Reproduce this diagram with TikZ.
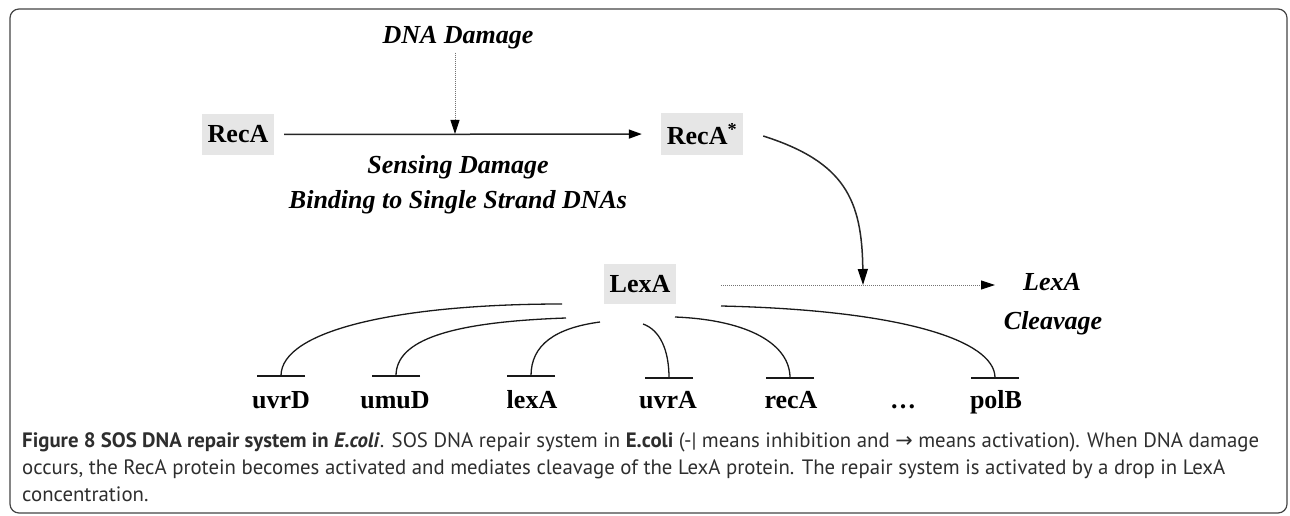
\documentclass[tikz,border=0pt]{standalone}
\usepackage{fontspec}
\setmainfont{Liberation Serif}
\newfontfamily\capfont{PT Sans}
\newfontfamily\arrowfont{DejaVu Sans}
\usetikzlibrary{arrows.meta,calc}
\definecolor{boxgray}{HTML}{E6E6E6}
\definecolor{framegray}{HTML}{444444}
\definecolor{captext}{HTML}{2E2E2E}
\begin{document}
\begin{tikzpicture}[x=1pt,y=-1pt,
  gene/.style={font=\fontsize{26}{30}\selectfont\bfseries, inner sep=0pt, anchor=base},
  protein/.style={fill=boxgray, font=\fontsize{26}{30}\selectfont\bfseries, minimum height=41pt, inner sep=0pt},
  note/.style={font=\fontsize{26}{30}\selectfont\bfseries\itshape, inner sep=0pt, anchor=base},
  actline/.style={line width=1.5pt, draw=black!85, -{Triangle[length=13pt,width=9pt,black]}},
  dotline/.style={line width=0.9pt, draw=black!55, dash pattern=on 1pt off 1pt, -{Triangle[length=14pt,width=9pt,black]}},
  inhib/.style={line width=1.3pt, draw=black!90, -{Bar[width=48pt,line width=1.6pt]}},
  capstyle/.style={font=\capfont\fontsize{20.8}{24}\selectfont, text=captext, inner sep=0pt, anchor=base west},
]
\useasboundingbox (0,0) rectangle (1290,516);
\draw[framegray, line width=1.2pt, rounded corners=9pt] (10,9) rectangle (1287,513);

% nodes
\node[note] (dna) at (458,44) {DNA Damage};
\node[protein, minimum width=72pt] (recA) at (238,134.5) {RecA};
\node[protein, minimum width=82pt] (recAs) at (702,134) {RecA\textsuperscript{*}};
\node[note] (sens) at (458,173) {Sensing Damage};
\node[note] (bind) at (458,208) {Binding to Single Strand DNAs};
\node[protein, minimum width=72pt, minimum height=40pt] (lexA) at (640,284) {LexA};
\node[note] (clv1) at (1052,290) {LexA};
\node[note] (clv2) at (1053,329) {Cleavage};

\node[gene] (g1) at (281,408) {uvrD};
\node[gene] (g2) at (395,408) {umuD};
\node[gene] (g3) at (532,408) {lexA};
\node[gene] (g4) at (668,408) {uvrA};
\node[gene] (g5) at (791,408) {recA};
\node[gene] (g6) at (903,408) {\dots};
\node[gene] (g7) at (996,408) {polB};

% named points
\coordinate (hit1) at (455,134);
\coordinate (hit2) at (863,285);
\coordinate (ctip) at (995,285);
\coordinate (b1) at (281,377);
\coordinate (b2) at (396,377);
\coordinate (b3) at (531,377);
\coordinate (b4) at (669,379);
\coordinate (b5) at (790,379);
\coordinate (b6) at (995,379);

% connectors
\draw[actline, shorten <=10pt, shorten >=19pt] (recA) -- (recAs);
\draw[dotline, shorten <=3pt] (dna.south -| hit1) -- (hit1);
\draw[actline, -{Triangle[length=16pt,width=10pt,black]}] ($(recAs.east)+(20,2)$) .. controls (845,162) and (862,200) .. (hit2);
\draw[dotline] ($(lexA.east)+(45,1)$) -- (ctip);

\draw[inhib] ($(lexA.center)+(-78,20)$) .. controls (400,304) and (281,330) .. (b1);
\draw[inhib] ($(lexA.center)+(-74,34)$) .. controls (450,322) and (396,340) .. (b2);
\draw[inhib] ($(lexA.center)+(-40,38)$) .. controls (555,328) and (531,345) .. (b3);
\draw[inhib] ($(lexA.center)+(3,40)$) .. controls (660,330) and (669,350) .. (b4);
\draw[inhib] ($(lexA.center)+(35,33)$) .. controls (750,320) and (790,345) .. (b5);
\draw[inhib] ($(lexA.center)+(81,22)$) .. controls (900,310) and (995,340) .. (b6);

% caption
\node[capstyle] (cap1) at (22,447) {\textbf{Figure 8 SOS DNA repair system in \textit{E.coli}}. SOS DNA repair system in \textbf{E.coli} (-| means inhibition and {\arrowfont →} means activation). When DNA damage};
\node[capstyle] (cap2) at (22,474) {occurs, the RecA protein becomes activated and mediates cleavage of the LexA protein. The repair system is activated by a drop in LexA};
\node[capstyle] (cap3) at (22,501) {concentration.};
\end{tikzpicture}
\end{document}
